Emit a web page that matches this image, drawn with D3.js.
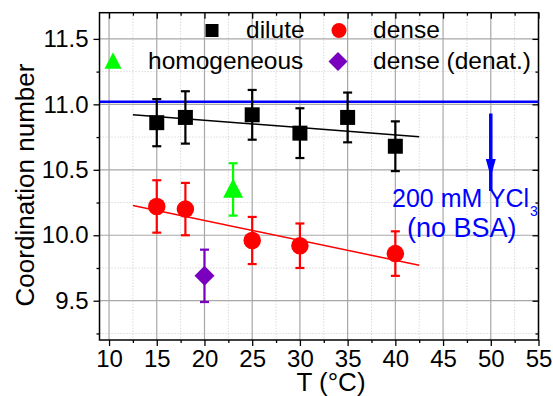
<!DOCTYPE html>
<html><head><meta charset="utf-8">
<script src="https://cdn.jsdelivr.net/npm/d3@7"></script>
<style>body{margin:0;background:#fff}svg{display:block}text{font-family:"Liberation Sans",Arial,sans-serif}</style>
</head><body>
<script>
// ---- data ----
const diluteT = [15, 18, 25, 30, 35, 40];
const diluteCN = [10.86, 10.90, 10.92, 10.78, 10.90, 10.68];
const diluteErr = [0.18, 0.20, 0.19, 0.19, 0.19, 0.19];
const denseT = [15, 18, 25, 30, 40];
const denseCN = [10.22, 10.20, 9.96, 9.92, 9.86];
const denseErr = [0.20, 0.20, 0.18, 0.17, 0.17];
const homoT = [23];
const homoCN = [10.35];
const homoErr = [0.20];
const denatT = [20];
const denatCN = [9.69];
const denatErr = [0.20];
const diluteFitT = [12.5, 42.5];
const diluteFitCN = [10.92, 10.753];
const denseFitT = [12.5, 42.5];
const denseFitCN = [10.227, 9.771];
const ycl3CN = 11.02;
const arrowT = 50, arrowFrom = 10.93, arrowTo = 10.445;
const xTicks = [10, 15, 20, 25, 30, 35, 40, 45, 50, 55];
const yTicks = [9.5, 10.0, 10.5, 11.0, 11.5];
const legendLabels = ["dilute", "dense", "homogeneous", "dense (denat.)"];

const W = 553, H = 396;
const L = 99.5, R = 538.5, T = 12.7, B = 340;
const svg = d3.select("body").append("svg").attr("width", W).attr("height", H);
const x = d3.scaleLinear().domain([9, 55]).range([L, R]);
const y = d3.scaleLinear().domain([9.2, 11.7]).range([B, T]);

// grid
const xMinor = d3.range(12.5, 55, 5);
const yMinor = d3.range(9.25, 11.7, 0.5);
const g = svg.append("g");
g.selectAll(".xm").data(xMinor).join("line").attr("x1", d => x(d)).attr("x2", d => x(d)).attr("y1", T).attr("y2", B)
  .attr("stroke", "#c8c8c8").attr("stroke-dasharray", "1,2");
g.selectAll(".ym").data(yMinor).join("line").attr("y1", d => y(d)).attr("y2", d => y(d)).attr("x1", L).attr("x2", R)
  .attr("stroke", "#c8c8c8").attr("stroke-dasharray", "1,2");
g.selectAll(".xM").data(xTicks).join("line").attr("x1", d => x(d)).attr("x2", d => x(d)).attr("y1", T).attr("y2", B)
  .attr("stroke", "#a8a8a8").attr("stroke-width", 1.2);
g.selectAll(".yM").data(yTicks).join("line").attr("y1", d => y(d)).attr("y2", d => y(d)).attr("x1", L).attr("x2", R)
  .attr("stroke", "#a8a8a8").attr("stroke-width", 1.2);

// axes
const fmtY = d3.format(".1f");
const axB = svg.append("g").attr("transform", `translate(0,${B})`)
  .call(d3.axisBottom(x).tickValues(xTicks).tickSize(6).tickPadding(4).tickFormat(d3.format("d")));
const axL = svg.append("g").attr("transform", `translate(${L},0)`)
  .call(d3.axisLeft(y).tickValues(yTicks).tickSize(6).tickPadding(5).tickFormat(fmtY));
const axT = svg.append("g").attr("transform", `translate(0,${T})`)
  .call(d3.axisBottom(x).tickValues(xTicks).tickSize(6).tickFormat(""));
const axR = svg.append("g").attr("transform", `translate(${R},0)`)
  .call(d3.axisLeft(y).tickValues(yTicks).tickSize(6).tickFormat(""));
const axBm = svg.append("g").attr("transform", `translate(0,${B})`).call(d3.axisBottom(x).tickValues(xMinor).tickSize(3).tickFormat(""));
const axLm = svg.append("g").attr("transform", `translate(${L},0)`).call(d3.axisLeft(y).tickValues(yMinor).tickSize(3).tickFormat(""));
const axTm = svg.append("g").attr("transform", `translate(0,${T})`).call(d3.axisBottom(x).tickValues(xMinor).tickSize(3).tickFormat(""));
const axRm = svg.append("g").attr("transform", `translate(${R},0)`).call(d3.axisLeft(y).tickValues(yMinor).tickSize(3).tickFormat(""));
[axB, axL, axT, axR, axBm, axLm, axTm, axRm].forEach(a => {
  a.select(".domain").remove();
  a.selectAll("line").attr("stroke", "#000").attr("stroke-width", 1.3);
  a.selectAll("text").attr("font-size", 24).attr("fill", "#000").attr("font-family", '"Liberation Sans",Arial,sans-serif');
});
svg.append("rect").attr("x", L).attr("y", T).attr("width", R - L).attr("height", B - T)
  .attr("fill", "none").attr("stroke", "#000").attr("stroke-width", 1.5);

// titles
svg.append("text").attr("transform", `translate(34,${185}) rotate(-90)`).attr("text-anchor", "middle")
  .attr("font-size", 26).text("Coordination number");
svg.append("text").attr("x", 331).attr("y", 391).attr("text-anchor", "middle").attr("font-size", 26).text("T (°C)");

// YCl3 reference line
svg.append("line").attr("x1", L).attr("x2", R).attr("y1", y(ycl3CN)).attr("y2", y(ycl3CN))
  .attr("stroke", "#0000ff").attr("stroke-width", 2.6);

// fits
const line = d3.line().x(d => x(d[0])).y(d => y(d[1]));
svg.append("path").attr("d", line(d3.zip(diluteFitT, diluteFitCN))).attr("stroke", "#000").attr("stroke-width", 1.5).attr("fill", "none");
svg.append("path").attr("d", line(d3.zip(denseFitT, denseFitCN))).attr("stroke", "#ff0000").attr("stroke-width", 1.5).attr("fill", "none");

function markerPath(kind, size) {
  if (kind === "square") return d3.symbol().type(d3.symbolSquare).size(size * size)();
  if (kind === "circle") return d3.symbol().type(d3.symbolCircle).size(Math.PI * size * size / 4)();
  if (kind === "triangle") return `M0,${-size * 0.55}L${size / 2},${size * 0.42}L${-size / 2},${size * 0.42}Z`;
  if (kind === "diamond") return d3.symbol().type(d3.symbolSquare).size(size * size / 2)();
}
function drawSeries(ts, vs, es, color, kind, size) {
  const data = d3.zip(ts, vs, es);
  const gg = svg.append("g");
  const eb = gg.selectAll(".e").data(data).join("g").attr("stroke", color).attr("stroke-width", 2.2);
  eb.append("line").attr("x1", d => x(d[0])).attr("x2", d => x(d[0])).attr("y1", d => y(d[1] + d[2])).attr("y2", d => y(d[1] - d[2]));
  eb.append("line").attr("x1", d => x(d[0]) - 4.5).attr("x2", d => x(d[0]) + 4.5).attr("y1", d => y(d[1] + d[2])).attr("y2", d => y(d[1] + d[2]));
  eb.append("line").attr("x1", d => x(d[0]) - 4.5).attr("x2", d => x(d[0]) + 4.5).attr("y1", d => y(d[1] - d[2])).attr("y2", d => y(d[1] - d[2]));
  gg.selectAll(".m").data(data).join("path")
    .attr("d", markerPath(kind, size))
    .attr("transform", d => `translate(${x(d[0])},${y(d[1])})${kind === "diamond" ? " rotate(45)" : ""}`)
    .attr("fill", color);
}
drawSeries(diluteT, diluteCN, diluteErr, "#000", "square", 15);
drawSeries(denseT, denseCN, denseErr, "#ff0000", "circle", 17.5);
drawSeries(homoT, homoCN, homoErr, "#00ff00", "triangle", 20);
drawSeries(denatT, denatCN, denatErr, "#7a00c0", "diamond", 20);

// arrow
svg.append("line").attr("x1", x(arrowT)).attr("x2", x(arrowT)).attr("y1", y(arrowFrom)).attr("y2", y(arrowTo) + 14)
  .attr("stroke", "#0000ff").attr("stroke-width", 3.5);
svg.append("path").attr("d", `M${x(arrowT) - 5},${y(arrowTo) - 18}L${x(arrowT) + 5},${y(arrowTo) - 18}L${x(arrowT)},${y(arrowTo)}Z`)
  .attr("fill", "#0000ff");

// annotation
const ann = svg.append("text").attr("x", 392).attr("y", 207).attr("font-size", 25).attr("fill", "#0000ff");
ann.append("tspan").text("200 mM YCl");
ann.append("tspan").attr("font-size", 14).attr("dy", 9).attr("dx", 1).text("3");
svg.append("text").attr("x", 407).attr("y", 237).attr("font-size", 27).attr("fill", "#0000ff").text("(no BSA)");

// legend
const legItems = [
  {label: legendLabels[0], kind: "square", color: "#000", sx: 212, tx: 246, cy: 30.5, size: 13},
  {label: legendLabels[1], kind: "circle", color: "#ff0000", sx: 339, tx: 373, cy: 30.5, size: 15},
  {label: legendLabels[2], kind: "triangle", color: "#00ff00", sx: 113, tx: 148, cy: 61.5, size: 17},
  {label: legendLabels[3], kind: "diamond", color: "#7a00c0", sx: 338, tx: 373, cy: 61.5, size: 19}
];
const lg = svg.append("g");
legItems.forEach(it => {
  lg.append("path").attr("d", markerPath(it.kind, it.size))
    .attr("transform", `translate(${it.sx},${it.cy})${it.kind === "diamond" ? " rotate(45)" : ""}`).attr("fill", it.color);
  lg.append("text").attr("x", it.tx).attr("y", it.cy + 7.5).attr("font-size", 24.5).text(it.label);
});
</script>
</body></html>
